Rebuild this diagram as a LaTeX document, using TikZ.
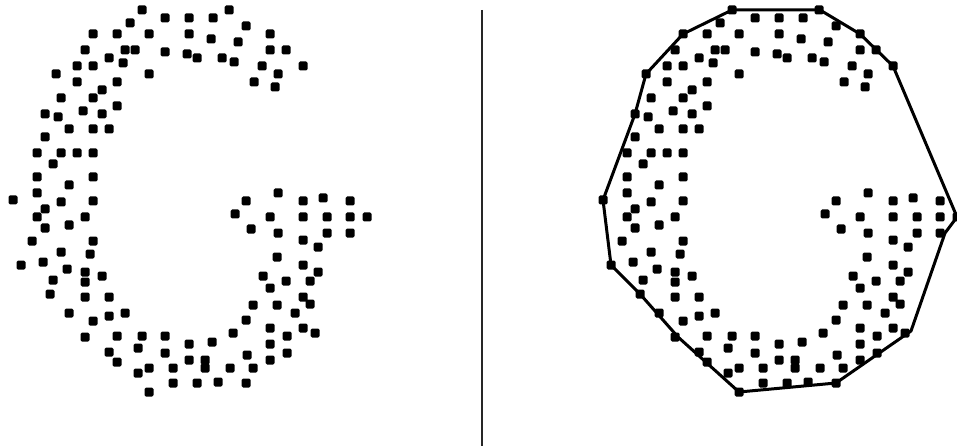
\documentclass[tikz,border=0pt]{standalone}
\begin{document}
\begin{tikzpicture}[x=1pt,y=-1pt]
\useasboundingbox (0,0) rectangle (957,446);
\clip (0,0) rectangle (957,446);
\tikzset{gdot/.style={fill=black,rounded corners=1.5pt}}
\def\dotlist{142/10,229/10,165/18,189/18,213/18,130/23,246/26,
93/34,117/34,149/34,189/34,211/39,238/42,270/34,
85/50,125/50,135/50,165/52,187/54,197/58,222/58,234/62,270/50,286/50,
109/58,123/63,56/74,77/66,93/66,149/74,262/66,278/74,303/66,
77/82,117/82,254/82,275/87,102/90,61/98,93/98,117/106,
45/114,58/117,83/111,102/114,69/129,93/129,109/129,45/137,
37/153,61/153,77/153,93/153,53/164,37/177,69/185,93/177,37/193,
13/200,61/202,93/201,
45/209,37/217,45/228,69/225,85/217,32/241,93/241,61/252,90/254,
21/265,43/262,67/269,85/272,85/282,102/276,53/280,50/294,85/297,109/297,
69/313,93/321,109/316,125/313,85/337,117/336,142/336,165/336,189/344,
109/352,117/362,138/348,165/353,189/360,138/373,149/368,173/368,173/383,149/392,
246/201,278/193,303/201,323/198,350/201,
235/214,270/217,303/217,327/217,350/217,367/217,
251/229,278/233,327/233,350/233,303/240,318/247,
277/257,303/265,263/276,286/281,318/272,310/281,
270/288,303/297,310/304,253/305,277/305,295/313,
246/320,233/333,270/328,287/336,303/328,315/333,
270/344,287/353,212/342,205/360,205/368,247/355,253/368,270/360,230/368,
197/383,218/382,246/383}
\foreach \px/\py in \dotlist {
  \path[gdot] (\px-4.5,\py-4.5) rectangle ++(9,9);
  \path[gdot] (\px+585.5,\py-4.5) rectangle ++(9,9);
}
\draw[line width=3pt,line join=round]
  (732,10) -- (820,10) -- (860,34) -- (893,66) -- (957,217) -- (945,233)
  -- (911,331) -- (836,383) -- (739,392) -- (678,337) -- (640,294)
  -- (611,265) -- (603,200) -- (635,114) -- (646,74) -- (683,34) -- cycle;
\draw[line width=2pt,black!85] (482,10) -- (482,446);
\end{tikzpicture}
\end{document}
